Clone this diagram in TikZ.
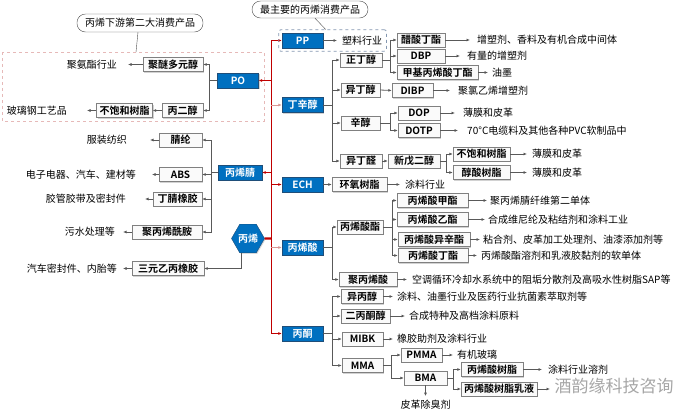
\documentclass[tikz,border=0pt]{standalone}
\usepackage{fontspec}
\setmainfont{Noto Sans CJK SC}[BoldFont={Noto Sans CJK SC Bold}]
\usetikzlibrary{arrows.meta,shapes.geometric,shadows,fit}

\definecolor{mblue}{HTML}{0070C0}
\definecolor{mdark}{HTML}{1F4E79}
\definecolor{mred}{HTML}{C00000}
\definecolor{mpink}{HTML}{D99694}
\definecolor{mgray}{HTML}{595959}
\definecolor{mframe}{HTML}{E6B9B8}
\definecolor{mblueframe}{HTML}{8497B0}

\tikzset{
  gbox/.style={draw=gray, fill=gray!4, font=\bfseries, inner xsep=3pt,
    inner ysep=0pt, minimum height=14pt,
    drop shadow={shadow xshift=1.2pt,shadow yshift=-1.2pt,fill=black!35}},
  bbox/.style={draw=mdark, fill=mblue, text=white, font=\bfseries,
    minimum width=41pt, minimum height=15pt, inner sep=0pt,
    drop shadow={shadow xshift=1.2pt,shadow yshift=-1.2pt,fill=black!35}},
  bubble/.style={draw=gray!60!black, rounded corners=8.5pt, inner sep=2pt},
  lab/.style={inner sep=1pt},
  conn/.style={draw=mgray, line width=0.8pt},
  redl/.style={draw=mred, line width=1pt},
  pinkl/.style={draw=mpink, line width=1pt}
}

\begin{document}
\begin{tikzpicture}[x=1pt,y=-1pt,font=\fontsize{10}{12}\selectfont,
  >={Latex[length=3.5pt,width=3pt]}]

\useasboundingbox (0,0) rectangle (698,418);

% Callouts
\node[bubble, minimum width=126pt, minimum height=18pt] (c1) at (140,23)
{丙烯下游第二大消费产品};
\node[bubble, minimum width=116pt, minimum height=17pt] (c2) at (310,9.5)
{最主要的丙烯消费产品};

% Frame round the PO branch
\draw[mframe, dashed, line width=0.8pt] (2,52) rectangle (264,121);
\coordinate (f1) at (136,52);
\draw[gray!60!black] ([xshift=-2pt]c1.south) -- (f1);

% Main products
\node[bbox] (po) at (238,80.5) {PO};
\node[bbox, minimum width=44pt] (bxj) at (240,172.5) {丙烯腈};
\node[bbox] (pp) at (302.5,40.5) {PP};
\node[bbox] (dxc) at (302.5,105) {丁辛醇};
\node[bbox] (ech) at (302.5,184.5) {ECH};
\node[bbox] (bxs) at (302.5,247.5) {丙烯酸};
\node[bbox] (bt) at (302.5,333.5) {丙酮};

% Propylene
\node[regular polygon, regular polygon sides=6, draw=mdark, fill=mblue,
  text=white, font=\bfseries, minimum size=33pt, inner sep=0pt,
  drop shadow={shadow xshift=1pt,shadow yshift=-1pt,fill=black!30}]
  (hex) at (248,238.5) {丙烯};

% Trunk
\coordinate (tk) at (271,0);
\draw[redl] (tk |- pp) -- (tk |- bt);
\draw[redl,->] (tk |- pp) -- (pp.west);
\draw[pinkl,->] (tk |- dxc) -- (dxc.west);
\draw[redl,->] (tk |- ech) -- (ech.west);
\draw[pinkl,->] (tk |- bxs) -- (bxs.west);
\draw[redl,->] (tk |- bt) -- (bt.west);
\draw[redl,->] (tk |- po) -- (po.east);
\draw[redl,->] (tk |- bxj) -- (bxj.east);
\draw[mred, line width=2.2pt] (hex.east) -- (tk |- hex);

% PP
\node[lab, anchor=west] (t_sl) at (341,40.5) {塑料行业};
\draw[conn,->,shorten >=4pt] (pp.east) -- (t_sl.west);
\node[draw=mblueframe, dashed, line width=0.8pt, rounded corners=2pt,
  fit=(pp)(t_sl), inner sep=3pt] (ppf) {};
\draw[gray!60!black] ([xshift=5pt]c2.south) -- ([xshift=-7pt]ppf.north);

% PO
\node[gbox, minimum width=60pt] (jm) at (173,64.5) {聚醚多元醇};
\node[gbox, minimum width=41pt] (bej) at (182.5,110.5) {丙二醇};
\node[gbox, minimum width=55pt] (bb1) at (124.5,110.5) {不饱和树脂};
\node[lab, anchor=east] (t_jaz) at (118,64.5) {聚氨酯行业};
\node[lab, anchor=east] (t_blg) at (68,110.5) {玻璃钢工艺品};
\draw[conn] (po.west) -- ++(-8,0) coordinate (b1);
\draw[conn,->] (b1) |- (jm.east);
\draw[conn,->] (b1) |- (bej.east);
\draw[conn,->] (bej.west) -- (bb1.east);
\draw[conn,->,shorten >=10pt] (jm.west) -- (t_jaz.east);
\draw[conn,->,shorten >=19pt] (bb1.west) -- (t_blg.east);

% Acrylonitrile
\node[gbox, minimum width=43pt] (jl) at (180.5,140) {腈纶};
\node[gbox, minimum width=43pt] (abs) at (180.5,174.5) {ABS};
\node[gbox, minimum width=49pt] (djxj) at (177.5,199) {丁腈橡胶};
\node[gbox, minimum width=70pt] (jxxa) at (167,232) {聚丙烯酰胺};
\node[gbox, minimum width=72pt] (sy) at (168,268.5) {三元乙丙橡胶};
\node[lab, anchor=east] (t_fz) at (128,140) {服装纺织};
\node[lab, anchor=east] (t_dz) at (137,174.5) {电子电器、汽车、建材等};
\node[lab, anchor=east] (t_jg) at (127,199) {胶管胶带及密封件};
\node[lab, anchor=east] (t_ws) at (116,232) {污水处理等};
\node[lab, anchor=east] (t_qc) at (118,268.5) {汽车密封件、内胎等};
\draw[conn] (bxj.west) -- ++(-6,0) coordinate (b2);
\draw[conn,->] (b2) |- (jl.east);
\draw[conn,->] (b2) |- (abs.east);
\draw[conn,->] (b2) |- (djxj.east);
\draw[conn,->] (b2) |- (jxxa.east);
\draw[conn,->,shorten >=22pt] (jl.west) -- (t_fz.east);
\draw[conn,->,shorten >=15pt] (abs.west) -- (t_dz.east);
\draw[conn,->,shorten >=18pt] (djxj.west) -- (t_jg.east);
\draw[conn,->,shorten >=7pt] (jxxa.west) -- (t_ws.east);
\draw[conn,->] ([xshift=-7pt]hex.south) |- (sy.east);
\draw[conn,->,shorten >=5pt] (sy.west) -- (t_qc.east);

% Butanol and octanol
\node[gbox, minimum width=42pt] (zdc) at (361,60) {正丁醇};
\node[gbox, minimum width=39pt] (ydc) at (360.5,90) {异丁醇};
\node[gbox, minimum width=39pt] (xc) at (360.5,123) {辛醇};
\node[gbox, minimum width=42pt] (ydq) at (361,161) {异丁醛};
\draw[conn] (dxc.east) -- ++(9,0) coordinate (b3);
\draw[conn] (b3 |- zdc) -- (b3 |- ydq);
\draw[conn,->] (b3 |- zdc) -- (zdc.west);
\draw[conn,->] (b3 |- ydc) -- (ydc.west);
\draw[conn,->] (b3 |- xc) -- (xc.west);
\draw[conn,->] (b3 |- ydq) -- (ydq.west);

\node[gbox, minimum width=48pt] (csdz) at (421,40) {醋酸丁酯};
\node[gbox, minimum width=48pt] (dbp) at (421,56) {DBP};
\node[gbox, minimum width=81pt] (jjbx) at (437.5,72.5) {甲基丙烯酸丁酯};
\node[lab, anchor=west] (t_zs) at (476,40) {增塑剂、香料及有机合成中间体};
\node[lab, anchor=west] (t_yl) at (466,56) {有量的增塑剂};
\node[lab, anchor=west] (t_ym) at (491,72.5) {油墨};
\draw[conn] (zdc.east) -- ++(8,0) coordinate (b4);
\draw[conn,->] (b4) |- (csdz.west);
\draw[conn,->] (b4) |- (dbp.west);
\draw[conn,->] (b4) |- (jjbx.west);
\draw[conn,->,shorten >=6pt] (csdz.east) -- (t_zs.west);
\draw[conn,->,shorten >=6pt] (dbp.east) -- (t_yl.west);
\draw[conn,->,shorten >=3pt] (jjbx.east) -- (t_ym.west);

\node[gbox, minimum width=41pt] (dibp) at (412.5,90.5) {DIBP};
\node[lab, anchor=west] (t_lyx) at (457,90.5) {聚氯乙烯增塑剂};
\draw[conn,->] (ydc.east) -- (dibp.west);
\draw[conn,->,shorten >=7pt] (dibp.east) -- (t_lyx.west);

\node[gbox, minimum width=42pt] (dop) at (419,113) {DOP};
\node[gbox, minimum width=42pt] (dotp) at (419,130.5) {DOTP};
\node[lab, anchor=west] (t_bm1) at (462,113) {薄膜和皮革};
\node[lab, anchor=west] (t_dl) at (466,130.5) {70°C电缆料及其他各种PVC软制品中};
\draw[conn] (xc.east) -- ++(10,0) coordinate (b5);
\draw[conn,->] (b5) |- (dop.west);
\draw[conn,->] (b5) |- (dotp.west);
\draw[conn,->,shorten >=7pt] (dop.east) -- (t_bm1.west);
\draw[conn,->,shorten >=8pt] (dotp.east) -- (t_dl.west);

\node[gbox, minimum width=52pt] (xwe) at (414,161) {新戊二醇};
\node[gbox, minimum width=57pt] (bb2) at (481.5,154) {不饱和树脂};
\node[gbox, minimum width=57pt] (csz) at (481.5,172.5) {醇酸树脂};
\node[lab, anchor=west] (t_bm2) at (531,154) {薄膜和皮革};
\node[lab, anchor=west] (t_bm3) at (531,172.5) {薄膜和皮革};
\draw[conn,->] (ydq.east) -- (xwe.west);
\draw[conn] (xwe.east) -- ++(6,0) coordinate (b6);
\draw[conn,->] (b6) |- (bb2.west);
\draw[conn,->] (b6) |- (csz.west);
\draw[conn,->,shorten >=4pt] (bb2.east) -- (t_bm2.west);
\draw[conn,->,shorten >=4pt] (csz.east) -- (t_bm3.west);

% ECH
\node[gbox, minimum width=55pt] (hysz) at (359.5,184.5) {环氧树脂};
\node[lab, anchor=west] (t_tl1) at (404,184.5) {涂料行业};
\draw[conn,->] (ech.east) -- (hysz.west);
\draw[conn,->,shorten >=4pt] (hysz.east) -- (t_tl1.west);

% Acrylic acid
\node[gbox, minimum width=44pt] (bxz) at (360,227) {丙烯酸酯};
\node[gbox, minimum width=58pt] (jbxs) at (368,279.5) {聚丙烯酸};
\node[lab, anchor=west] (t_kt) at (411,279.5) {空调循环冷却水系统中的阻垢分散剂及高吸水性树脂SAP等};
\draw[conn] (bxs.east) -- ++(9,0) coordinate (b7);
\draw[conn,->] (b7) |- (bxz.west);
\draw[conn,->] (b7) |- (jbxs.west);
\draw[conn,->,shorten >=4pt] (jbxs.east) -- (t_kt.west);

\node[gbox, minimum width=71pt] (jz) at (432.5,200.5) {丙烯酸甲酯};
\node[gbox, minimum width=71pt] (yz) at (432.5,219.5) {丙烯酸乙酯};
\node[gbox, minimum width=72pt] (yxz) at (434,239.5) {丙烯酸异辛酯};
\node[gbox, minimum width=70pt] (dz) at (433,255.5) {丙烯酸丁酯};
\node[lab, anchor=west] (t_jx) at (489,200.5) {聚丙烯腈纤维第二单体};
\node[lab, anchor=west] (t_wn) at (487,219.5) {合成维尼纶及粘结剂和涂料工业};
\node[lab, anchor=west] (t_nh) at (482,239.5) {粘合剂、皮革加工处理剂、油漆添加剂等};
\node[lab, anchor=west] (t_rj) at (480,255.5) {丙烯酸酯溶剂和乳液胶黏剂的软单体};
\draw[conn] (bxz.east) -- ++(9,0) coordinate (b8);
\draw[conn] (b8 |- jz) -- (b8 |- dz);
\draw[conn,->] (b8 |- jz) -- (jz.west);
\draw[conn,->] (b8 |- yz) -- (yz.west);
\draw[conn,->] (b8 |- yxz) -- (yxz.west);
\draw[conn,->] (b8 |- dz) -- (dz.west);
\draw[conn,->,shorten >=2pt] (jz.east) -- (t_jx.west);
\draw[conn,->,shorten >=2pt] (yz.east) -- (t_wn.west);
\draw[conn,->,shorten >=2pt] (yxz.east) -- (t_nh.west);
\draw[conn,->,shorten >=3pt] (dz.east) -- (t_rj.west);

% Acetone
\node[gbox, minimum width=42pt] (ybc) at (362,296.5) {异丙醇};
\node[gbox, minimum width=49pt] (ebtc) at (365.5,316) {二丙酮醇};
\node[gbox, minimum width=41pt] (mibk) at (362.5,339) {MIBK};
\node[gbox, minimum width=41pt] (mma) at (362.5,365.5) {MMA};
\node[lab, anchor=west] (t_ty) at (396,296.5) {涂料、油墨行业及医药行业抗菌素萃取剂等};
\node[lab, anchor=west] (t_hc) at (408,316) {合成特种及高档涂料原料};
\node[lab, anchor=west] (t_xj) at (396,339) {橡胶助剂及涂料行业};
\draw[conn] (bt.east) -- ++(9,0) coordinate (b9);
\draw[conn] (b9 |- ybc) -- (b9 |- mma);
\draw[conn,->] (b9 |- ybc) -- (ybc.west);
\draw[conn,->] (b9 |- ebtc) -- (ebtc.west);
\draw[conn,->] (b9 |- mibk) -- (mibk.west);
\draw[conn,->] (b9 |- mma) -- (mma.west);
\draw[conn,->,shorten >=3pt] (ybc.east) -- (t_ty.west);
\draw[conn,->,shorten >=3pt] (ebtc.east) -- (t_hc.west);
\draw[conn,->,shorten >=3pt] (mibk.east) -- (t_xj.west);

\node[gbox, minimum width=41pt] (pmma) at (421.5,355) {PMMA};
\node[gbox, minimum width=43pt] (bma) at (425.5,378) {BMA};
\node[lab, anchor=west] (t_yj) at (456,355) {有机玻璃};
\node[lab] (t_pg) at (425.5,405) {皮革除臭剂};
\draw[conn] (mma.east) -- ++(8,0) coordinate (b10);
\draw[conn,->] (b10) |- (pmma.west);
\draw[conn,->] (b10) |- (bma.west);
\draw[conn,->,shorten >=3pt] (pmma.east) -- (t_yj.west);
\draw[conn,->,shorten >=3pt] (bma.south) -- (t_pg.north);

\node[gbox, minimum width=62pt] (bsz) at (492,369.5) {丙烯酸树脂};
\node[gbox, anchor=west] (bszr) at (461,389) {丙烯酸树脂乳液};
\node[lab, anchor=west] (t_rj2) at (547,369.5) {涂料行业溶剂};
\draw[conn] (bma.east) -- ++(6,0) coordinate (b11);
\draw[conn,->] (b11) |- (bsz.west);
\draw[conn,->] (b11) |- (bszr.west);
\draw[conn,->,shorten >=5pt] (bsz.east) -- (t_rj2.west);
\coordinate (e1) at (550,389);
\draw[conn,->] (bszr.east) -- (e1);

% Watermark
\node[text=gray!70, font=\fontsize{17}{19}\selectfont] (wm) at (614,386)
{酒韵缘科技咨询};

\end{tikzpicture}
\end{document}
